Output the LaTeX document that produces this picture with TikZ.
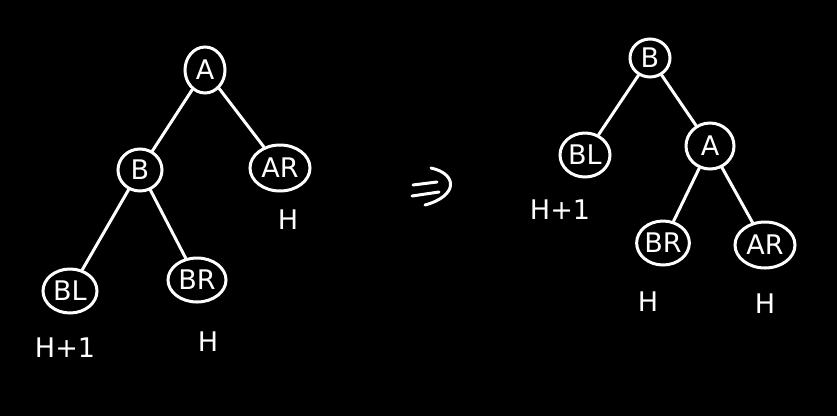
\documentclass[tikz,border=0pt]{standalone}
\usepackage{fontspec}
\setmainfont{DejaVu Sans}
\usetikzlibrary{shapes.geometric}
\begin{document}
\begin{tikzpicture}[x=1pt,y=-1pt,
  nd/.style={draw=white,line width=3pt,ellipse,inner sep=0pt,text=white,font=\fontsize{27}{27}\selectfont},
  lbl/.style={text=white,font=\fontsize{27}{27}\selectfont},
  edge/.style={draw=white,line width=3pt,line cap=round},
  stroke/.style={draw=white,line width=3pt,line cap=round,line join=round}]
\fill[black] (0,0) rectangle (837,416);
\useasboundingbox (0,0) rectangle (837,416);
% left tree
\node[nd,minimum width=40pt,minimum height=46pt] (A1) at (205,70) {A};
\node[nd,minimum width=44pt,minimum height=42pt] (B1) at (140,170) {B};
\node[nd,minimum width=60pt,minimum height=46pt] (AR1) at (280,168) {AR};
\node[nd,minimum width=54pt,minimum height=44pt] (BL1) at (70,291) {BL};
\node[nd,minimum width=58pt,minimum height=44pt] (BR1) at (197,280) {BR};
\draw[edge] (A1) -- (B1);
\draw[edge] (A1) -- (AR1);
\draw[edge] (B1) -- (BL1);
\draw[edge] (B1) -- (BR1);
\node[lbl] (h1) at (288,220) {H};
\node[lbl] (h2) at (65,348) {H+1};
\node[lbl] (h3) at (208,342) {H};
% arrow "=>"
\draw[stroke] (413,185) -- (437,182);
\draw[stroke] (412,196) -- (439,192);
\draw[stroke] (431,168) .. controls (458,174) and (458,196) .. (425,205);
% right tree
\node[nd,minimum width=40pt,minimum height=38pt] (B2) at (650,58) {B};
\node[nd,minimum width=50pt,minimum height=44pt] (BL2) at (585,155) {BL};
\node[nd,minimum width=48pt,minimum height=46pt] (A2) at (710,146) {A};
\node[nd,minimum width=50pt,minimum height=44pt] (BR2) at (663,243) {BR};
\node[nd,minimum width=60pt,minimum height=46pt] (AR2) at (765,245) {AR};
\draw[edge] (B2) -- (BL2);
\draw[edge] (B2) -- (A2);
\draw[edge] (A2) -- (BR2);
\draw[edge] (A2) -- (AR2);
\node[lbl] (h4) at (560,210) {H+1};
\node[lbl] (h5) at (648,302) {H};
\node[lbl] (h6) at (765,304) {H};
\end{tikzpicture}
\end{document}
